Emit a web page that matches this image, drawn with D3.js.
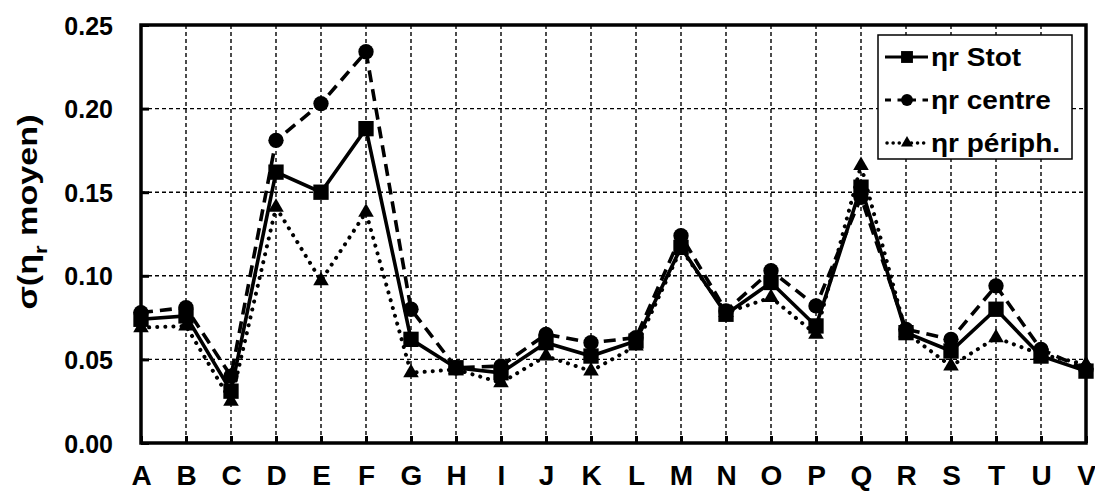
<!DOCTYPE html>
<html>
<head>
<meta charset="utf-8">
<script src="https://cdn.jsdelivr.net/npm/d3@7"></script>
<style>
  body { margin: 0; background: #fff; }
  text { font-family: Arial, "Liberation Sans", sans-serif; font-weight: bold; fill: #000; }
</style>
</head>
<body>
<svg id="chart"></svg>
<script>
// categories and series
var categories = ["A","B","C","D","E","F","G","H","I","J","K","L","M","N","O","P","Q","R","S","T","U","V"];
var stot   = [0.074,0.076,0.031,0.162,0.150,0.188,0.062,0.045,0.042,0.060,0.052,0.061,0.117,0.077,0.096,0.070,0.153,0.066,0.055,0.080,0.052,0.043];
var centre = [0.078,0.081,0.040,0.181,0.203,0.234,0.080,0.045,0.046,0.065,0.060,0.063,0.124,0.079,0.103,0.082,0.147,0.068,0.062,0.094,0.056,0.044];
var periph = [0.069,0.070,0.025,0.141,0.097,0.138,0.042,0.044,0.036,0.052,0.043,0.058,0.116,0.078,0.087,0.065,0.166,0.066,0.046,0.063,0.053,0.047];
var yTicks = [0, 0.05, 0.10, 0.15, 0.20, 0.25];
var seriesNames = ["ηr Stot", "ηr centre", "ηr périph."];

var width = 1095, height = 491;
var plotLeft = 141, plotRight = 1086, plotTop = 25, plotBottom = 443;

var svg = d3.select("#chart").attr("width", width).attr("height", height);

var x = d3.scalePoint().domain(categories).range([plotLeft, plotRight]);
var y = d3.scaleLinear().domain([0, 0.25]).range([plotBottom, plotTop]);

// grid
svg.append("g").selectAll("line")
  .data(categories.slice(1, -1))
  .enter().append("line")
  .attr("x1", d => x(d)).attr("x2", d => x(d))
  .attr("y1", plotTop).attr("y2", plotBottom)
  .attr("stroke", "#000").attr("stroke-width", 1.4)
  .attr("stroke-dasharray", "4,3");
svg.append("g").selectAll("line")
  .data(yTicks.slice(1, -1))
  .enter().append("line")
  .attr("x1", plotLeft).attr("x2", plotRight)
  .attr("y1", d => y(d)).attr("y2", d => y(d))
  .attr("stroke", "#000").attr("stroke-width", 1.4)
  .attr("stroke-dasharray", "4,3");

// axes
var yAxis = d3.axisLeft(y).tickValues(yTicks).tickSize(-8).tickPadding(28).tickFormat(d3.format(".2f"));
var gy = svg.append("g").attr("transform", `translate(${plotLeft},0)`).call(yAxis);
gy.select(".domain").remove();
gy.selectAll(".tick line").attr("stroke", "#000").attr("stroke-width", 3);
gy.selectAll("text").style("font-size", "25px").attr("dy", "0.36em");

var xAxis = d3.axisBottom(x).tickSize(-7).tickPadding(22);
var gx = svg.append("g").attr("transform", `translate(0,${plotBottom})`).call(xAxis);
gx.select(".domain").remove();
gx.selectAll(".tick line").attr("stroke", "#000").attr("stroke-width", 3);
gx.selectAll("text").style("font-size", "28px");

// frame
svg.append("rect")
  .attr("x", plotLeft).attr("y", plotTop)
  .attr("width", plotRight - plotLeft).attr("height", plotBottom - plotTop)
  .attr("fill", "none").attr("stroke", "#000").attr("stroke-width", 3.5);

// y title
svg.append("text")
  .attr("transform", "translate(37,212) rotate(-90) scale(1.22,1)")
  .attr("text-anchor", "middle")
  .style("font-size", "28px")
  .call(t => {
    t.append("tspan").text("σ(η");
    t.append("tspan").attr("baseline-shift", "sub").style("font-size", "18px").text("r");
    t.append("tspan").text(" moyen)");
  });

var series = [
  { name: seriesNames[0], values: stot, dash: null, cap: "butt", marker: d3.symbolSquare, size: 235 },
  { name: seriesNames[1], values: centre, dash: "12,7", cap: "butt", marker: d3.symbolCircle, size: 185 },
  { name: seriesNames[2], values: periph, dash: "0.1,8", cap: "round", marker: d3.symbolTriangle, size: 105 }
];

var line = d3.line().x((d, i) => x(categories[i])).y(d => y(d));

series.forEach(s => {
  svg.append("path")
    .datum(s.values)
    .attr("d", line)
    .attr("fill", "none")
    .attr("stroke", "#000")
    .attr("stroke-width", s.cap === "round" ? 4 : 3.6)
    .attr("stroke-linecap", s.cap)
    .attr("stroke-dasharray", s.dash);
  svg.append("g").selectAll("path")
    .data(s.values)
    .enter().append("path")
    .attr("d", d3.symbol().type(s.marker).size(s.size))
    .attr("transform", (d, i) => `translate(${x(categories[i])},${y(d)})`)
    .attr("fill", "#000");
});

// legend
var lg = svg.append("g");
lg.append("rect")
  .attr("x", 878).attr("y", 35).attr("width", 194).attr("height", 124)
  .attr("fill", "#fff").attr("stroke", "#000").attr("stroke-width", 1.5);
var rows = lg.selectAll(".legend")
  .data(series)
  .enter().append("g")
  .attr("class", "legend")
  .attr("transform", (d, i) => `translate(0,${57 + i * 43})`);
rows.append("line")
  .attr("x1", d => d.cap === "round" ? 887 : 885).attr("x2", 928)
  .attr("y1", 0).attr("y2", 0)
  .attr("stroke", "#000")
  .attr("stroke-width", d => d.cap === "round" ? 3.5 : 3.2)
  .attr("stroke-linecap", d => d.cap)
  .attr("stroke-dasharray", d => d.cap === "round" ? "0.1,6" : (d.dash ? "6,6.5" : null));
rows.append("path")
  .attr("d", d => d3.symbol().type(d.marker).size(d.size * 0.6)())
  .attr("transform", "translate(907,0)")
  .attr("fill", "#000");
rows.append("text")
  .attr("transform", "translate(931,0) scale(1.12,1)")
  .attr("dy", "0.36em")
  .style("font-size", "25px")
  .text(d => d.name);
</script>
</body>
</html>
